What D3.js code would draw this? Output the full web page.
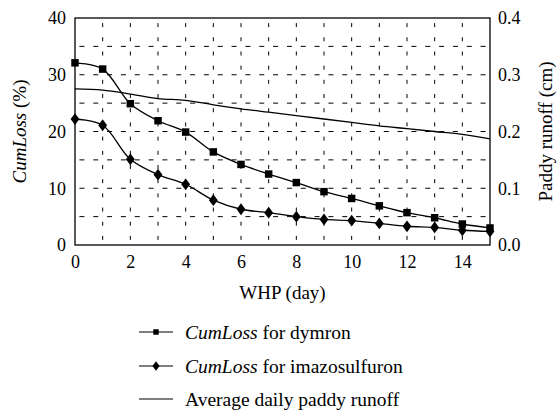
<!DOCTYPE html>
<html>
<head>
<meta charset="utf-8">
<script src="https://cdn.jsdelivr.net/npm/d3@7/dist/d3.min.js"></script>
<style>
  html, body { margin: 0; padding: 0; background: #fff; }
  svg { display: block; }
  svg text { font-family: "Liberation Serif", "Times New Roman", Times, Tinos, "DejaVu Serif", serif; fill: #000; }
</style>
</head>
<body>
<svg id="chart" width="557" height="412"></svg>
<script>
const days = [0,1,2,3,4,5,6,7,8,9,10,11,12,13,14,15];
const dymron = [32.1,31.0,24.9,21.9,19.9,16.4,14.2,12.5,11.0,9.4,8.2,6.9,5.7,4.8,3.7,3.0];
const imazosulfuron = [22.2,21.1,15.1,12.4,10.7,7.9,6.3,5.7,5.0,4.5,4.3,3.8,3.3,3.1,2.6,2.4];
const runoff = [0.275,0.273,0.266,0.258,0.255,0.247,0.240,0.234,0.228,0.222,0.216,0.210,0.205,0.200,0.195,0.187];
const xTicks = [0,2,4,6,8,10,12,14];
const yLeftTicks = [0,10,20,30,40];
const yRightTicks = [0,0.1,0.2,0.3,0.4];
const legendLabels = [
  {italic: "CumLoss", rest: " for dymron"},
  {italic: "CumLoss", rest: " for imazosulfuron"},
  {italic: "", rest: "Average daily paddy runoff"}
];

const FONT = '"Liberation Serif", "Times New Roman", Times, Tinos, "DejaVu Serif", serif';
const svg = d3.select("#chart");
const L = 75, R = 490, T = 18, B = 245;

const x = d3.scaleLinear().domain([0,15]).range([L,R]);
const yL = d3.scaleLinear().domain([0,40]).range([B,T]);
const yR = d3.scaleLinear().domain([0,0.4]).range([B,T]);

const g = svg.append("g");

// grid: horizontal dashed every 5
const hStep = x(0.5) - x(0);
d3.range(5,40,5).forEach(v => {
  g.append("line")
    .attr("x1", L).attr("x2", R)
    .attr("y1", yL(v)).attr("y2", yL(v))
    .attr("stroke", "#000").attr("stroke-width", 1)
    .attr("stroke-dasharray", "5," + (hStep - 5))
    .attr("stroke-dashoffset", -(hStep/2 - 2.5));
});
// vertical dashed at each integer day
const vStep = yL(0) - yL(2.5);
d3.range(1,15).forEach(d => {
  g.append("line")
    .attr("x1", x(d)).attr("x2", x(d))
    .attr("y1", B).attr("y2", T)
    .attr("stroke", "#000").attr("stroke-width", 1)
    .attr("stroke-dasharray", "4," + (vStep - 4))
    .attr("stroke-dashoffset", -(vStep/2 - 2));
});

// frame
g.append("rect").attr("x", L).attr("y", T).attr("width", R-L).attr("height", B-T)
  .attr("fill", "none").attr("stroke", "#000").attr("stroke-width", 1.3);

// axes
const axB = d3.axisBottom(x).tickValues(xTicks).tickSize(0).tickPadding(10).tickFormat(d3.format("d"));
const axL = d3.axisLeft(yL).tickValues(yLeftTicks).tickSize(0).tickPadding(9).tickFormat(d3.format("d"));
const axR = d3.axisRight(yR).tickValues(yRightTicks).tickSize(0).tickPadding(8).tickFormat(d3.format(".1f"));

function styleAxis(sel) {
  sel.attr("font-family", null).attr("font-size", null);
  sel.select(".domain").remove();
  sel.selectAll("text").style("font-family", FONT).style("font-size", "18px").attr("fill", "#000");
}
svg.append("g").attr("transform", `translate(0,${B})`).call(axB).call(styleAxis);
svg.append("g").attr("transform", `translate(${L},0)`).call(axL).call(styleAxis);
svg.append("g").attr("transform", `translate(${R},0)`).call(axR).call(styleAxis);

// axis titles
svg.append("text").attr("x", (L+R)/2).attr("y", 299).attr("text-anchor", "middle")
  .style("font-family", FONT).style("font-size", "19px").text("WHP (day)");
const yt = svg.append("text").attr("transform", `translate(26,${(T+B)/2}) rotate(-90)`)
  .attr("text-anchor", "middle").style("font-family", FONT).style("font-size", "19px");
yt.append("tspan").style("font-style", "italic").text("CumLoss");
yt.append("tspan").text(" (%)");
svg.append("text").attr("transform", `translate(552,${(T+B)/2}) rotate(-90)`)
  .attr("text-anchor", "middle").style("font-family", FONT).style("font-size", "19px").text("Paddy runoff (cm)");

// lines
const lineL = d3.line().x((d,i) => x(days[i])).y(d => yL(d)).curve(d3.curveCatmullRom.alpha(0.5));
const lineR = d3.line().x((d,i) => x(days[i])).y(d => yR(d)).curve(d3.curveCatmullRom.alpha(0.5));

svg.append("path").datum(runoff).attr("d", lineR).attr("fill", "none").attr("stroke", "#000").attr("stroke-width", 1.3);
svg.append("path").datum(dymron).attr("d", lineL).attr("fill", "none").attr("stroke", "#000").attr("stroke-width", 1.3);
svg.append("path").datum(imazosulfuron).attr("d", lineL).attr("fill", "none").attr("stroke", "#000").attr("stroke-width", 1.3);

const sq = d3.symbol().type(d3.symbolSquare).size(56);
svg.append("g").selectAll("path").data(dymron).join("path")
  .attr("d", sq).attr("transform", (d,i) => `translate(${x(days[i])},${yL(d)})`).attr("fill", "#000");
svg.append("g").selectAll("path").data(imazosulfuron).join("path")
  .attr("d", d3.symbol().type(d3.symbolDiamond).size(40))
  .attr("transform", (d,i) => `translate(${x(days[i])},${yL(d)}) scale(1.3,1)`).attr("fill", "#000");

// legend
const legY = [332, 366, 399];
const lg = svg.append("g");
legendLabels.forEach((lab, i) => {
  const yy = legY[i];
  lg.append("line").attr("x1", 139).attr("x2", 173).attr("y1", yy).attr("y2", yy)
    .attr("stroke", "#000").attr("stroke-width", 1.2);
  if (i === 0) lg.append("path").attr("d", d3.symbol().type(d3.symbolSquare).size(30)).attr("transform", `translate(156,${yy})`);
  if (i === 1) lg.append("path").attr("d", d3.symbol().type(d3.symbolDiamond).size(26)).attr("transform", `translate(156,${yy}) scale(1.3,1)`);
  const t = lg.append("text").attr("x", 185).attr("y", yy + 6.5).style("font-family", FONT).style("font-size", "19.5px");
  if (lab.italic) t.append("tspan").style("font-style", "italic").text(lab.italic);
  t.append("tspan").text(lab.rest);
});
</script>
</body>
</html>
